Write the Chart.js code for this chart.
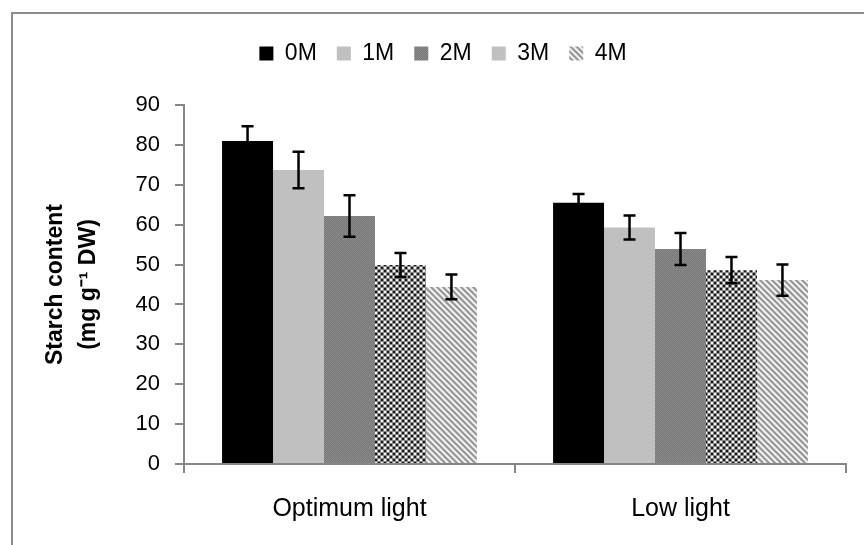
<!DOCTYPE html>
<html>
<head>
<meta charset="utf-8">
<script src="https://cdn.jsdelivr.net/npm/chart.js@4/dist/chart.umd.min.js"></script>
<style>
  html, body { margin: 0; padding: 0; background: #fff; }
  #wrap { position: relative; width: 864px; height: 545px; }
</style>
</head>
<body>
<div id="wrap"><canvas id="c" width="864" height="545"></canvas></div>
<script>
// ---- Data ----
const categories = ["Optimum light", "Low light"];
const seriesNames = ["0M", "1M", "2M", "3M", "4M"];
const values0M = [81.0, 65.5];
const values1M = [73.7, 59.3];
const values2M = [62.2, 53.9];
const values3M = [49.9, 48.6];
const values4M = [44.4, 46.1];
const err0M = [3.7, 2.2];
const err1M = [4.6, 3.0];
const err2M = [5.2, 4.0];
const err3M = [3.0, 3.3];
const err4M = [3.1, 3.9];
const yTicks = [0, 10, 20, 30, 40, 50, 60, 70, 80, 90];

// ---- Patterns ----
function makePattern(w, h, fn) {
  const c = document.createElement('canvas');
  c.width = w; c.height = h;
  const x = c.getContext('2d');
  const img = x.createImageData(w, h);
  for (let j = 0; j < h; j++) for (let i = 0; i < w; i++) {
    const g = fn(i, j);
    const k = (j * w + i) * 4;
    img.data[k] = img.data[k + 1] = img.data[k + 2] = g;
    img.data[k + 3] = 255;
  }
  x.putImageData(img, 0, 0);
  return x.createPattern(c, 'repeat');
}
const pat2M = makePattern(2, 2, (i, j) => ((i + j) % 2 ? 0x76 : 0x8c));
const pat3M = makePattern(6, 6, (i, j) => {
  const ci = Math.floor(i / 3), cj = Math.floor(j / 3);
  const ii = i % 3, jj = j % 3;
  if (ii === 2 || jj === 2) return 0x8a;
  return ((ci + cj) % 2) ? 0xf2 : 0x18;
});
const stripeVals = [140, 170, 220, 252, 220, 170];
const pat4M = makePattern(6, 6, (i, j) => stripeVals[(((i - j) % 6) + 6) % 6]);

const fills = ['#000000', '#c0c0c0', pat2M, pat3M, pat4M];
const legendFills = ['#000000', '#c0c0c0', pat2M, '#c0c0c0', pat4M];
const valueArrays = [values0M, values1M, values2M, values3M, values4M];
const errArrays = [err0M, err1M, err2M, err3M, err4M];

const datasets = seriesNames.map((n, i) => ({
  label: n,
  data: valueArrays[i],
  errors: errArrays[i],
  backgroundColor: fills[i],
  borderWidth: 0,
  categoryPercentage: 0.77,
  barPercentage: 1.0
}));

const errorBars = {
  id: 'errorBars',
  afterDatasetsDraw(chart) {
    const ctx = chart.ctx;
    const ys = chart.scales.y;
    ctx.save();
    ctx.strokeStyle = '#000';
    ctx.lineWidth = 2.5;
    chart.data.datasets.forEach((ds, i) => {
      const meta = chart.getDatasetMeta(i);
      meta.data.forEach((bar, j) => {
        const v = ds.data[j], e = ds.errors[j];
        const x = bar.x;
        const t = ys.getPixelForValue(v + e);
        const b = ys.getPixelForValue(v - e);
        const cap = 6;
        ctx.beginPath();
        ctx.moveTo(x, t); ctx.lineTo(x, b);
        ctx.moveTo(x - cap, t); ctx.lineTo(x + cap, t);
        ctx.moveTo(x - cap, b); ctx.lineTo(x + cap, b);
        ctx.stroke();
      });
    });
    ctx.restore();
  }
};

const frame = {
  id: 'frame',
  beforeDraw(chart) {
    const ctx = chart.ctx;
    ctx.save();
    ctx.fillStyle = '#fff';
    ctx.fillRect(0, 0, chart.width, chart.height);
    ctx.strokeStyle = '#8c8c8c';
    ctx.lineWidth = 2;
    ctx.beginPath();
    ctx.moveTo(12, chart.height + 2);
    ctx.lineTo(12, 13);
    ctx.lineTo(chart.width + 2, 13);
    ctx.stroke();
    ctx.restore();
  }
};

// extra gap under the legend, and a small right shift of the legend row
const legendTweak = {
  id: 'legendTweak',
  beforeUpdate(chart) {
    const lg = chart.legend;
    if (lg && !lg._patched) {
      const origFit = lg.fit;
      lg.fit = function () { origFit.apply(this, arguments); this.height += 30; };
      const origDraw = lg.draw;
      lg.draw = function () {
        const ctx = this.ctx;
        ctx.save();
        ctx.translate(20, 0);
        origDraw.apply(this, arguments);
        ctx.restore();
      };
      lg._patched = true;
    }
  }
};

const sans = "'Liberation Sans', Arimo, Arial, sans-serif";

function build() {
  new Chart(document.getElementById('c'), {
    type: 'bar',
    data: { labels: categories, datasets },
    plugins: [frame, errorBars, legendTweak],
    options: {
      responsive: false,
      animation: false,
      devicePixelRatio: 1,
      layout: { padding: { left: 0, right: 18, top: 22, bottom: 0 } },
      plugins: {
        tooltip: { enabled: false },
        legend: {
          position: 'top',
          align: 'center',
          labels: {
            boxWidth: 14,
            boxHeight: 14,
            padding: 20,
            color: '#000',
            font: { family: sans, size: 23 },
            generateLabels(chart) {
              return chart.data.datasets.map((ds, i) => ({
                text: ds.label,
                fillStyle: legendFills[i],
                strokeStyle: 'rgba(0,0,0,0)',
                lineWidth: 0,
                hidden: false,
                datasetIndex: i
              }));
            }
          }
        }
      },
      scales: {
        x: {
          grid: { display: true, drawOnChartArea: false, drawTicks: true, tickLength: 9, color: '#868686', lineWidth: 2, offset: true },
          border: { display: true, color: '#868686', width: 2 },
          ticks: { color: '#000', font: { family: sans, size: 25 }, padding: 21 },
          afterFit(scale) { scale.height = 81; }
        },
        y: {
          min: 0,
          max: 90,
          afterBuildTicks(scale) { scale.ticks = yTicks.map(v => ({ value: v })); },
          grid: { display: true, drawOnChartArea: false, drawTicks: true, tickLength: 9, color: '#868686', lineWidth: 2 },
          border: { display: true, color: '#868686', width: 2 },
          ticks: { color: '#000', font: { family: sans, size: 22 }, padding: 15 },
          title: {
            display: true,
            text: ['Starch content', '(mg g\u207B\u00B9 DW)'],
            color: '#000',
            font: { family: sans, size: 23, weight: 'bold', lineHeight: 1.4 },
            padding: { top: 40, bottom: 0 }
          },
          afterFit(scale) { scale.width = 184; }
        }
      }
    }
  });
}

const loads = [
  "23px 'Liberation Sans'", "22px 'Liberation Sans'", "bold 23px 'Liberation Sans'"
].map(f => document.fonts.load(f).catch(() => null));
Promise.all(loads).then(build, build);
</script>
</body>
</html>
